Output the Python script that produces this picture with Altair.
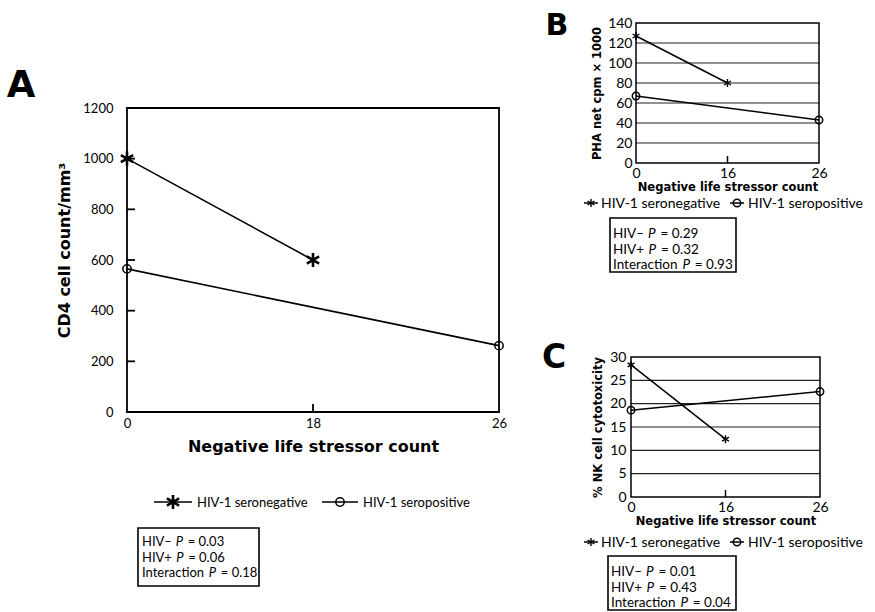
import altair as alt
import pandas as pd

# ---------------- data ----------------
A_cats = ["0", "18", "26"]
A_neg_x = ["0", "18"]
A_neg_y = [1000, 600]
A_pos_x = ["0", "26"]
A_pos_y = [565, 262]
A_yticks = [0, 200, 400, 600, 800, 1000, 1200]

B_cats = ["0", "16", "26"]
B_neg_x = ["0", "16"]
B_neg_y = [127, 80]
B_pos_x = ["0", "26"]
B_pos_y = [67, 43]
B_yticks = [0, 20, 40, 60, 80, 100, 120, 140]

C_cats = ["0", "16", "26"]
C_neg_x = ["0", "16"]
C_neg_y = [28.3, 12.4]
C_pos_x = ["0", "26"]
C_pos_y = [18.6, 22.6]
C_yticks = [0, 5, 10, 15, 20, 25, 30]

legend_labels = ["HIV-1 seronegative", "HIV-1 seropositive"]
stat_names = ["HIV\u2013", "HIV+", "Interaction"]
A_stats = ["0.03", "0.06", "0.18"]
B_stats = ["0.29", "0.32", "0.93"]
C_stats = ["0.01", "0.43", "0.04"]

XTITLE = "Negative life stressor count"

ASTER = "M0,-1L0,1M-0.866,-0.5L0.866,0.5M-0.866,0.5L0.866,-0.5"
LFONT = "Lato"
BFONT = "DejaVu Sans"

one = pd.DataFrame({"a": [0]})

# approximate Lato advance widths (em) for placing the italic P
LW = {"H": .75, "I": .29, "V": .69, "\u2013": .56, "+": .6, "n": .57, "t": .36,
      "e": .53, "r": .38, "a": .5, "c": .47, "i": .24, "o": .57}


def tw(s, fs):
    return sum(LW.get(ch, .56) for ch in s) * fs


def panel(cats, neg_x, neg_y, pos_x, pos_y, ymax, yticks, xr, yr, ytitle,
          lw, fsw, ast_size, ast_sw, circ_size, lab_fs, ttl_fs, ylab_pad, ytitle_pad,
          xlab_pad, xtitle_pad, inside_ticks, grid, xtick_len, title_y=None):
    xs = alt.Scale(type="point", domain=cats, range=xr, padding=0)
    ys = alt.Scale(domain=[0, ymax], range=yr, nice=False, zero=True)

    yaxis_kw = dict(orient="left", offset=-xr[0], values=yticks, format="d", ticks=False,
                    domain=False, grid=False, labelFont=LFONT, labelFontSize=lab_fs,
                    labelColor="black", labelPadding=ylab_pad, title=ytitle, titleFont=BFONT,
                    titleFontSize=ttl_fs, titleFontWeight="bold", titleColor="black",
                    titlePadding=ytitle_pad)
    if title_y is not None:
        yaxis_kw["titleY"] = title_y
    yaxis = alt.Axis(**yaxis_kw)
    xaxis = alt.Axis(orient="bottom", offset=yr[0] - 612, ticks=False, domain=False,
                     grid=False, labelAngle=0, labelFont=LFONT, labelFontSize=lab_fs,
                     labelColor="black", labelPadding=xlab_pad, title=XTITLE,
                     titleFont=BFONT, titleFontSize=ttl_fs, titleFontWeight="bold",
                     titleColor="black", titlePadding=xtitle_pad)

    def X(axis=None):
        return alt.X("x:N", scale=xs, axis=axis, sort=cats)

    def Y(axis=None):
        return alt.Y("y:Q", scale=ys, axis=axis)

    layers = []
    if grid:
        gdf = pd.DataFrame({"x": [cats[0]] * (len(yticks) - 2),
                            "x2": [cats[-1]] * (len(yticks) - 2),
                            "y": yticks[1:-1]})
        layers.append(alt.Chart(gdf).mark_rule(color="#222222", strokeWidth=1.1).encode(
            x=X(), x2=alt.X2("x2"), y=Y()))
    if inside_ticks:
        tdf = pd.DataFrame({"x": [cats[0]] * (len(yticks) - 2), "y": yticks[1:-1]})
        layers.append(alt.Chart(tdf).mark_rule(color="black", strokeWidth=fsw,
                                               x2Offset=8).encode(
            x=X(), x2=alt.X2("x"), y=Y()))
    xtdf = pd.DataFrame({"x": [cats[1]], "y": [0]})
    layers.append(alt.Chart(xtdf).mark_rule(color="black", strokeWidth=fsw,
                                            y2Offset=-xtick_len).encode(
        x=X(), y=Y(), y2=alt.Y2("y")))

    fdf = pd.DataFrame({"x": [cats[0]], "x2": [cats[-1]], "y": [0], "y2": [ymax]})
    layers.append(alt.Chart(fdf).mark_rect(fill="transparent", stroke="black",
                                           strokeWidth=fsw).encode(
        x=X(), x2=alt.X2("x2"), y=Y(), y2=alt.Y2("y2")))

    ldf = pd.DataFrame({"x": neg_x + pos_x, "y": neg_y + pos_y,
                        "g": ["neg"] * len(neg_x) + ["pos"] * len(pos_x)})
    layers.append(alt.Chart(ldf).mark_line(color="black", strokeWidth=lw).encode(
        x=X(xaxis), y=Y(yaxis), detail="g:N"))
    ndf = pd.DataFrame({"x": neg_x, "y": neg_y})
    layers.append(alt.Chart(ndf).mark_point(shape=ASTER, size=ast_size, filled=False,
                                            color="black", strokeWidth=ast_sw,
                                            opacity=1).encode(x=X(), y=Y()))
    pdf_ = pd.DataFrame({"x": pos_x, "y": pos_y})
    layers.append(alt.Chart(pdf_).mark_point(shape="circle", size=circ_size, filled=False,
                                             color="black", strokeWidth=1.5,
                                             opacity=1).encode(x=X(), y=Y()))
    return layers


def text(txt, x, y, fs, font=LFONT, weight="normal", style="normal", align="left"):
    return alt.Chart(one).mark_text(text=txt, font=font, fontSize=fs, fontWeight=weight,
                                    fontStyle=style, align=align, baseline="alphabetic",
                                    color="black").encode(x=alt.value(x), y=alt.value(y))


def legend(y, s1, e1, t1, s2, e2, t2, fs, ast_size, ast_sw, circ_size):
    out = []
    for (s, e) in [(s1, e1), (s2, e2)]:
        out.append(alt.Chart(one).mark_rule(color="black", strokeWidth=1.5).encode(
            x=alt.value(s), x2=alt.value(e), y=alt.value(y)))
    out.append(alt.Chart(one).mark_point(shape=ASTER, size=ast_size, filled=False,
                                         color="black", strokeWidth=ast_sw, opacity=1).encode(
        x=alt.value((s1 + e1) / 2), y=alt.value(y)))
    out.append(alt.Chart(one).mark_point(shape="circle", size=circ_size, filled=False,
                                         color="black", strokeWidth=1.5, opacity=1).encode(
        x=alt.value((s2 + e2) / 2), y=alt.value(y)))
    out.append(text(legend_labels[0], t1, y + 4.5, fs))
    out.append(text(legend_labels[1], t2, y + 4.5, fs))
    return out


def stats(x0, x1, y0, y1, tx, baselines, vals, fs):
    out = [alt.Chart(one).mark_rect(fill="transparent", stroke="black", strokeWidth=1.6).encode(
        x=alt.value(x0), x2=alt.value(x1), y=alt.value(y0), y2=alt.value(y1))]
    sp = 0.3 * fs
    for name, val, by in zip(stat_names, vals, baselines):
        w = tw(name, fs)
        px = tx + w + sp
        out.append(text(name, tx, by, fs))
        out.append(text("P", px, by, fs, style="italic"))
        out.append(text("= " + val, px + 0.62 * fs + sp, by, fs))
    return out


lay = []
lay += panel(A_cats, A_neg_x, A_neg_y, A_pos_x, A_pos_y, 1200, A_yticks, [127, 499], [412, 108],
             "CD4 cell count/mm\u00b3", lw=1.6, fsw=1.8, ast_size=200, ast_sw=2.6, circ_size=70,
             lab_fs=13, ttl_fs=16, ylab_pad=14, ytitle_pad=10, xlab_pad=5, xtitle_pad=8,
             inside_ticks=True, grid=False, xtick_len=8, title_y=250)
lay += panel(B_cats, B_neg_x, B_neg_y, B_pos_x, B_pos_y, 140, B_yticks, [636, 819], [163, 23],
             "PHA net cpm \u00d7 1000", lw=1.5, fsw=1.5, ast_size=64, ast_sw=1.4, circ_size=55,
             lab_fs=14, ttl_fs=11.5, ylab_pad=4, ytitle_pad=5, xlab_pad=3, xtitle_pad=1,
             inside_ticks=False, grid=True, xtick_len=7)
lay += panel(C_cats, C_neg_x, C_neg_y, C_pos_x, C_pos_y, 30, C_yticks, [631, 820], [497, 357],
             "% NK cell cytotoxicity", lw=1.5, fsw=1.5, ast_size=64, ast_sw=1.4, circ_size=55,
             lab_fs=14, ttl_fs=11.5, ylab_pad=5, ytitle_pad=6, xlab_pad=3, xtitle_pad=1,
             inside_ticks=False, grid=True, xtick_len=7)

lay.append(text("A", 21, 97, 37, font=BFONT, weight="bold", align="center"))
lay.append(text("B", 557, 35, 30, font=BFONT, weight="bold", align="center"))
lay.append(text("C", 554, 368, 33, font=BFONT, weight="bold", align="center"))
lay += legend(502, 154, 192, 197, 322, 358, 363, 13, 200, 2.6, 70)
lay += legend(203, 584, 598, 601, 730, 744, 748, 14, 64, 1.4, 55)
lay += legend(542, 584, 598, 601, 730, 744, 748, 14, 64, 1.4, 55)
lay += stats(138, 259, 528, 586, 142, [546, 561.5, 577], A_stats, 13)
lay += stats(610, 736, 218, 272, 613, [238, 254, 269], B_stats, 13.5)
lay += stats(608, 736, 556, 610, 611, [576, 592, 607], C_stats, 13.5)

chart = alt.layer(*lay).resolve_scale(
    x="independent", y="independent").resolve_axis(
    x="independent", y="independent").properties(
    width=875, height=612, autosize=alt.AutoSizeParams(type="none"), padding=0,
    background="white").configure_view(strokeWidth=0)

chart.save("out.html", embed_options={"renderer": "svg", "actions": False})
